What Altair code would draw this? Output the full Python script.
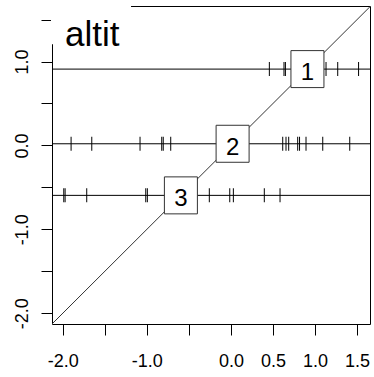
import altair as alt
import pandas as pd

# Horizontal reference lines (one per group) and their labels
line_levels = [0.91, 0.02, -0.595]
line_labels = ["1", "2", "3"]

# Rug values on each line
rug1 = [0.457, 0.631, 0.648, 1.131, 1.270, 1.518]
rug2 = [-1.901, -1.655, -1.081, -0.823, -0.805, -0.716, 0.616, 0.655, 0.687,
        0.794, 0.816, 0.893, 1.092, 1.413]
rug3 = [-1.988, -1.972, -1.715, -1.013, -0.994, -0.257, -0.014, 0.029, 0.397, 0.584]

x_ticks = [-2.0, -1.5, -1.0, -0.5, 0.0, 0.5, 1.0, 1.5]
y_ticks = [-2.0, -1.5, -1.0, -0.5, 0.0, 0.5, 1.0, 1.5]
x_domain = [-2.128, 1.654]
y_domain = [-2.128, 1.662]
diag = [-2.2, 1.7]
title_text = "altit"
title_box_x = [-2.14, -1.188]
title_box_y = [1.205, 1.70]

FONT = "Liberation Sans"

rug_rows = []
for lvl, vals in zip(line_levels, [rug1, rug2, rug3]):
    for v in vals:
        rug_rows.append({"x": v, "y": lvl})
rug_df = pd.DataFrame(rug_rows)
lines_df = pd.DataFrame({"y": line_levels, "lab": line_labels, "x": line_levels})
diag_df = pd.DataFrame({"x": diag, "y": diag})
box_df = pd.DataFrame({"x": [title_box_x[0]], "x2": [title_box_x[1]],
                       "y": [title_box_y[0]], "y2": [title_box_y[1]]})

xs = alt.Scale(domain=x_domain, nice=False, zero=False)
ys = alt.Scale(domain=y_domain, nice=False, zero=False)

x_expr = "(datum.value == -1.5 || datum.value == -0.5) ? '' : (datum.value < 0 ? '-' : '') + format(abs(datum.value), '.1f')"
y_expr = "(datum.value == -1.5 || datum.value == -0.5 || datum.value == 0.5 || datum.value == 1.5) ? '' : (datum.value < 0 ? '-' : '') + format(abs(datum.value), '.1f')"

x_axis = alt.Axis(values=x_ticks, labelExpr=x_expr, title=None, grid=False, domain=False,
                  tickSize=11, tickColor="black", tickWidth=1, labelFont=FONT, labelFontSize=18,
                  labelColor="black", labelPadding=17, labelOverlap=False, labelFlush=False,
                  labelBaseline="top")
y_axis = alt.Axis(values=y_ticks, labelExpr=y_expr, title=None, grid=False, domain=False,
                  tickSize=11, tickColor="black", tickWidth=1, labelFont=FONT, labelFontSize=18,
                  labelColor="black", labelPadding=14, labelOverlap=False, labelFlush=False,
                  labelAngle=-90, labelAlign="center", labelBaseline="alphabetic")

diag_layer = alt.Chart(diag_df).mark_line(color="#333333", strokeWidth=1, clip=True).encode(
    x=alt.X("x:Q", scale=xs, axis=x_axis),
    y=alt.Y("y:Q", scale=ys, axis=y_axis),
)

hlines = alt.Chart(lines_df).mark_rule(color="black", strokeWidth=1).encode(
    y=alt.Y("y:Q", scale=ys)
)

rugs = alt.Chart(rug_df).mark_tick(orient="vertical", size=14, thickness=1, color="black",
                                   opacity=1).encode(
    x=alt.X("x:Q", scale=xs),
    y=alt.Y("y:Q", scale=ys),
)

boxes = alt.Chart(lines_df).mark_point(
    shape="M-1,-1.121H1V1.121H-1Z", size=1089, filled=True, fill="white",
    stroke="#333333", strokeWidth=1, opacity=1
).encode(
    x=alt.X("x:Q", scale=xs),
    y=alt.Y("y:Q", scale=ys),
)

box_text = alt.Chart(lines_df).mark_text(
    font=FONT, fontSize=24, color="black", align="center", baseline="alphabetic", dy=11
).encode(
    x=alt.X("x:Q", scale=xs),
    y=alt.Y("y:Q", scale=ys),
    text="lab:N",
)

title_box = alt.Chart(box_df).mark_rect(color="white", opacity=1).encode(
    x=alt.X("x:Q", scale=xs), x2="x2:Q",
    y=alt.Y("y:Q", scale=ys), y2="y2:Q",
)

title_mark = alt.Chart(pd.DataFrame({"t": [title_text]})).mark_text(
    font=FONT, fontSize=35, color="black", align="left", baseline="alphabetic"
).encode(
    x=alt.value(13), y=alt.value(40), text="t:N"
)

chart = alt.layer(diag_layer, hlines, rugs, boxes, box_text, title_box, title_mark).properties(
    width=318, height=318,
    autosize=alt.AutoSizeParams(type="none"),
    padding={"left": 52, "top": 6, "right": 4, "bottom": 53},
).configure(
    background="white",
    view=alt.ViewConfig(stroke="black", strokeWidth=1),
)

chart.save("out.html", embed_options={"renderer": "svg", "actions": False})
